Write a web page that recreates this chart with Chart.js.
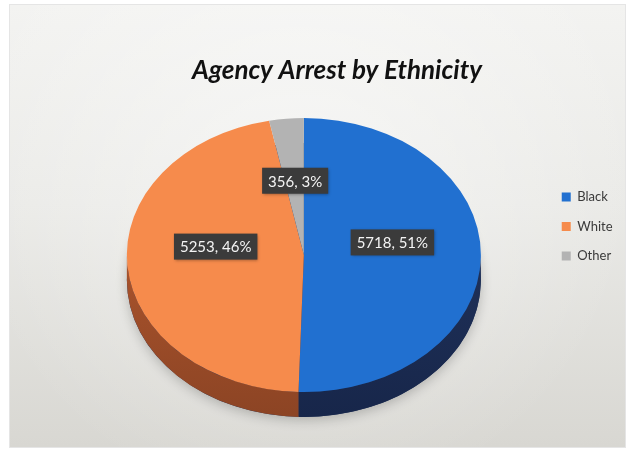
<!DOCTYPE html>
<html>
<head>
<meta charset="utf-8">
<title>Agency Arrest by Ethnicity</title>
<script src="https://cdn.jsdelivr.net/npm/chart.js@4.4.1/dist/chart.umd.min.js"></script>
<style>
  html, body { margin: 0; padding: 0; background: #fff; }
  #wrap { width: 627px; height: 449px; }
</style>
</head>
<body>
<div id="wrap"><canvas id="arrestChart" width="627" height="449"></canvas></div>
<script>
// --- data ---
const ethnicities = ['Black', 'White', 'Other'];
const arrests = [5718, 5253, 356];
const percents = [51, 46, 3];

// --- colours: top face / side wall ---
const topColors = ['#2170d0', '#f68b4c', '#b3b3b3'];
const sideColors = ['#1f3159', '#a9532c', '#7a7a7a'];

// --- 3D look ---
const SQUASH = 137 / 177;   // top face height / width
const DEPTH = 25;           // wall thickness, px
const LABEL_LIFT = 13.5;
const LABEL_SQUASH = 0.69;

Chart.defaults.font.family = 'Lato';

// grey gradient panel behind everything + title
const panel = {
  id: 'panel',
  beforeDraw(chart) {
    const { ctx, width, height } = chart;
    ctx.save();
    ctx.fillStyle = '#fff';
    ctx.fillRect(0, 0, width, height);
    const g = ctx.createLinearGradient(0, 5, 0, 447);
    g.addColorStop(0, '#f3f3f1');
    g.addColorStop(0.45, '#eaeae7');
    g.addColorStop(1, '#d8d7d2');
    ctx.fillStyle = g;
    ctx.fillRect(10, 5, 615, 442);
    const r = ctx.createRadialGradient(300, 170, 10, 300, 170, 340);
    r.addColorStop(0, 'rgba(255,255,255,0.45)');
    r.addColorStop(1, 'rgba(255,255,255,0)');
    ctx.fillStyle = r;
    ctx.fillRect(10, 5, 615, 442);
    ctx.strokeStyle = 'rgba(0,0,0,0.10)';
    ctx.lineWidth = 1;
    ctx.strokeRect(9.5, 4.5, 616, 443);
    ctx.restore();
  },
  afterDraw(chart) {
    const ctx = chart.ctx;
    ctx.save();
    ctx.font = 'italic bold 26px Lato';
    ctx.fillStyle = '#111';
    ctx.textAlign = 'center';
    ctx.textBaseline = 'alphabetic';
    ctx.fillText('Agency Arrest by Ethnicity', 337, 79);
    ctx.restore();
  }
};

// side wall, squashed top face and value boxes
const pie3d = {
  id: 'pie3d',
  beforeDatasetsDraw(chart) {
    const ctx = chart.ctx;
    const arcs = chart.getDatasetMeta(0).data;
    const { x: cx, y: cy, outerRadius: r } = arcs[0].getProps(['x', 'y', 'outerRadius'], true);
    const ry = r * SQUASH;

    // soft shadow under the pie
    ctx.save();
    ctx.shadowColor = 'rgba(0,0,0,0.22)';
    ctx.shadowBlur = 12;
    ctx.shadowOffsetY = 3;
    ctx.beginPath();
    ctx.ellipse(cx, cy + DEPTH, r, ry, 0, 0, Math.PI * 2);
    ctx.fillStyle = sideColors[0];
    ctx.fill();
    ctx.restore();

    // wall: only the front half (0..PI) is visible
    ctx.save();
    arcs.forEach((arc, i) => {
      const { startAngle, endAngle } = arc.getProps(['startAngle', 'endAngle'], true);
      const a = Math.max(startAngle, 0);
      const b = Math.min(endAngle, Math.PI);
      if (b <= a) return;
      const g = ctx.createLinearGradient(0, cy, 0, cy + ry + DEPTH);
      g.addColorStop(0, sideColors[i]);
      g.addColorStop(1, i === 1 ? '#8c4424' : '#17264a');
      ctx.beginPath();
      ctx.ellipse(cx, cy, r, ry, 0, a, b);
      ctx.ellipse(cx, cy + DEPTH, r, ry, 0, b, a, true);
      ctx.closePath();
      ctx.fillStyle = g;
      ctx.fill();
    });
    ctx.restore();

    // top face: draw the circle as an ellipse
    ctx.save();
    ctx.translate(cx, cy);
    ctx.scale(1, SQUASH);
    ctx.translate(-cx, -cy);
  },
  afterDatasetsDraw(chart) {
    const ctx = chart.ctx;
    ctx.restore();

    const arcs = chart.getDatasetMeta(0).data;
    const cy = arcs[0].getProps(['y'], true).y;
    ctx.save();
    ctx.font = '15px Lato';
    ctx.textAlign = 'center';
    ctx.textBaseline = 'middle';
    arcs.forEach((arc, i) => {
      const p = arc.tooltipPosition(true);
      const x = p.x;
      const y = cy - LABEL_LIFT + (p.y - cy) * LABEL_SQUASH;
      const text = `${arrests[i]}, ${percents[i]}%`;
      const w = ctx.measureText(text).width + 12;
      const h = 26;
      ctx.save();
      ctx.shadowColor = 'rgba(0,0,0,0.35)';
      ctx.shadowBlur = 3;
      ctx.shadowOffsetX = 1;
      ctx.shadowOffsetY = 1;
      ctx.fillStyle = '#3b3b3b';
      ctx.fillRect(x - w / 2, y - h / 2, w, h);
      ctx.restore();
      ctx.fillStyle = '#f4f4f4';
      ctx.fillText(text, x, y + 1);
    });
    ctx.restore();
  }
};

new Chart(document.getElementById('arrestChart'), {
  type: 'pie',
  data: {
    labels: ethnicities,
    datasets: [{
      data: arrests,
      backgroundColor: topColors,
      borderWidth: 0,
      clip: false
    }]
  },
  options: {
    responsive: false,
    animation: false,
    events: [],
    radius: 177,
    layout: { padding: { top: 78, bottom: 17, left: 62.5, right: 4.5 } },
    plugins: {
      legend: {
        position: 'right',
        align: 'start',
        title: { display: true, text: ' ', font: { size: 12, lineHeight: 1 }, padding: { top: 84, bottom: 0 } },
        labels: {
          boxWidth: 9,
          boxHeight: 9,
          padding: 16.5,
          color: '#3a3a3a',
          font: { size: 13 }
        }
      },
      tooltip: { enabled: false }
    }
  },
  plugins: [panel, pie3d]
});
</script>
</body>
</html>
